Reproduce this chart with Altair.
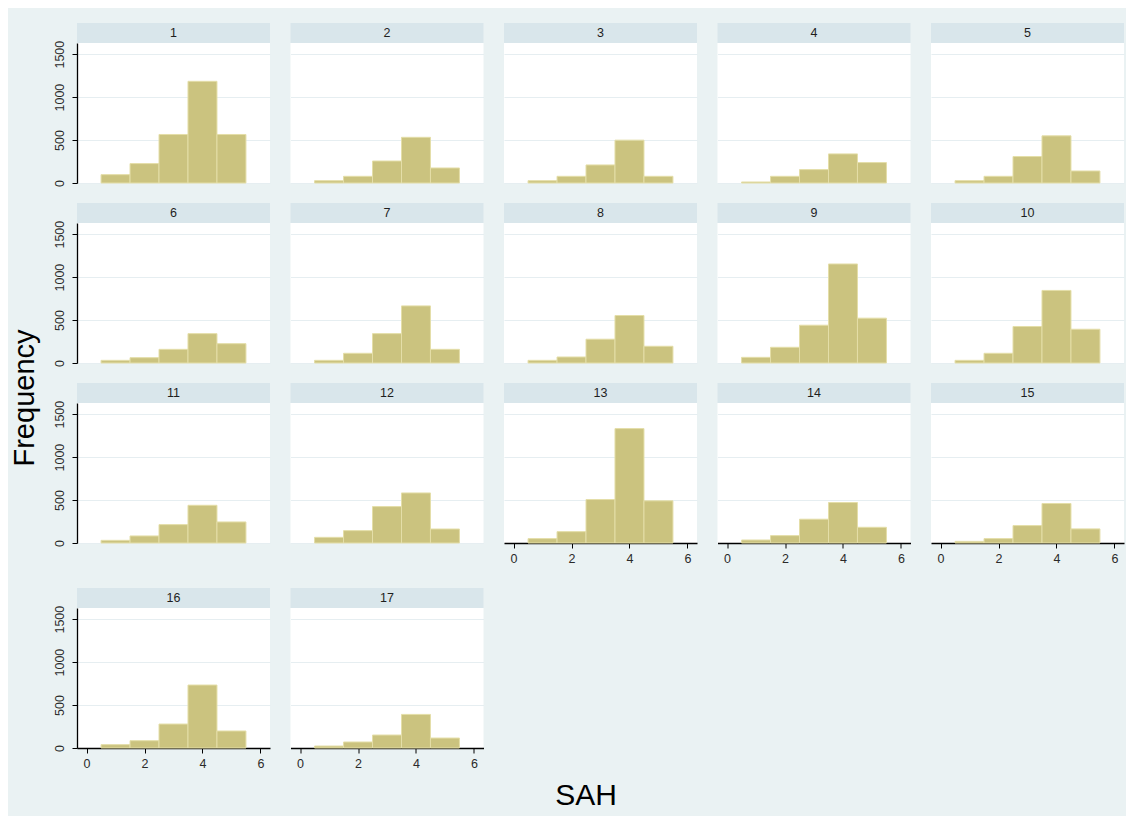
import altair as alt
import pandas as pd

# ---- data (counts per SAH level 1..5, per group) ----
groups = list(range(1, 18))
sah_levels = [1, 2, 3, 4, 5]
g1 = [97, 226, 565, 1184, 565]
g2 = [27, 78, 256, 532, 175]
g3 = [27, 78, 210, 499, 78]
g4 = [12, 78, 156, 339, 238]
g5 = [27, 78, 308, 549, 140]
g6 = [31, 62, 159, 342, 225]
g7 = [31, 113, 342, 665, 159]
g8 = [31, 70, 277, 553, 195]
g9 = [66, 183, 440, 1153, 522]
g10 = [31, 113, 425, 845, 393]
g11 = [31, 82, 214, 439, 245]
g12 = [66, 144, 424, 583, 163]
g13 = [51, 132, 506, 1332, 491]
g14 = [35, 86, 277, 471, 183]
g15 = [19, 51, 203, 460, 164]
g16 = [39, 85, 279, 733, 198]
g17 = [23, 70, 151, 391, 116]
counts = [g1, g2, g3, g4, g5, g6, g7, g8, g9, g10, g11, g12, g13, g14, g15, g16, g17]
y_ticks = [0, 500, 1000, 1500]
x_ticks = [0, 2, 4, 6]

rows_data = []
for g, vals in zip(groups, counts):
    for s, v in zip(sah_levels, vals):
        rows_data.append({"group": g, "sah": s, "freq": v})
df = pd.DataFrame(rows_data)

# ---- style ----
FONT = "Liberation Sans"
BG = "#EAF2F3"
STRIP = "#D9E6EB"
BAR = "#CBC37F"
EDGE = "#E4DEA8"
GRID = "#E6EEF1"
W, H = 193, 140


def panel(g, first_col, bottom):
    base = (
        alt.Chart(df)
        .transform_filter(alt.datum.group == g)
        .transform_calculate(lo="datum.sah - 0.5", hi="datum.sah + 0.5")
    )
    if first_col:
        yaxis = alt.Axis(
            values=y_ticks, title=None, grid=True, gridColor=GRID, gridWidth=1.2,
            format="d",
            labelAngle=270, labelAlign="center", labelBaseline="bottom",
            labelFlush=False, labelOverlap=False, labelFontSize=12.5, labelFont=FONT,
            labelColor="#2a2a2a", labelPadding=6, tickSize=5, tickColor="black",
            domainColor="black", domainWidth=1.3,
        )
    else:
        yaxis = alt.Axis(
            values=y_ticks, title=None, grid=True, gridColor=GRID, gridWidth=1.2,
            labels=False, ticks=False, domain=False,
        )
    xscale = alt.Scale(domain=[-0.33, 6.33], nice=False, zero=False)
    if bottom:
        xenc = alt.X(
            "lo:Q", scale=xscale,
            axis=alt.Axis(
                values=x_ticks, title=None, grid=False, labelFlush=False,
                labelFontSize=12.5, labelFont=FONT, labelColor="#2a2a2a",
                labelPadding=4, tickSize=5, tickColor="black",
                domainColor="black", domainWidth=1.3,
            ),
        )
    else:
        xenc = alt.X("lo:Q", scale=xscale, axis=None)
    bars = base.mark_rect(color=BAR, stroke=EDGE, strokeWidth=1).encode(
        x=xenc,
        x2="hi:Q",
        y=alt.Y("freq:Q", scale=alt.Scale(domain=[0, 1630], nice=False), axis=yaxis),
        y2=alt.datum(0),
    )
    lab = alt.Chart(pd.DataFrame({"label": [str(g)]}))
    strip = lab.mark_rect(color=STRIP).encode(
        x=alt.value(0), x2=alt.value(W), y=alt.value(-20), y2=alt.value(0)
    )
    text = lab.mark_text(fontSize=12.5, font=FONT, color="#1e1e1e").encode(
        text="label:N", x=alt.value(W / 2), y=alt.value(-10)
    )
    return alt.layer(strip, text, bars).properties(width=W, height=H)


row_charts = []
for r in range(4):
    gs = groups[r * 5:(r + 1) * 5]
    panels = [panel(g, i == 0, g >= 13) for i, g in enumerate(gs)]
    row_charts.append(alt.hconcat(*panels, spacing=20.5))

upper = alt.vconcat(row_charts[0], row_charts[1], row_charts[2], spacing=16)
grid = alt.vconcat(upper, row_charts[3], spacing=23)

freq_label = (
    alt.Chart(pd.DataFrame({"t": ["Frequency"]}))
    .mark_text(angle=270, fontSize=29, font=FONT, color="black")
    .encode(text="t:N", x=alt.value(17), y=alt.value(355))
    .properties(width=28, height=725, view=alt.ViewBackground(fill=BG, strokeWidth=0))
)

chart = (
    alt.hconcat(freq_label, grid, spacing=12)
    .properties(
        title=alt.TitleParams(
            "SAH", orient="bottom", anchor="middle", fontSize=30, font=FONT,
            fontWeight="normal", color="black", offset=11, dx=20,
        ),
        padding={"left": 0, "top": 15, "right": 2, "bottom": 14},
        background=BG,
    )
    .configure_view(fill="white", strokeWidth=0)
)

chart.save("out.html", embed_options={"renderer": "svg", "actions": False})
